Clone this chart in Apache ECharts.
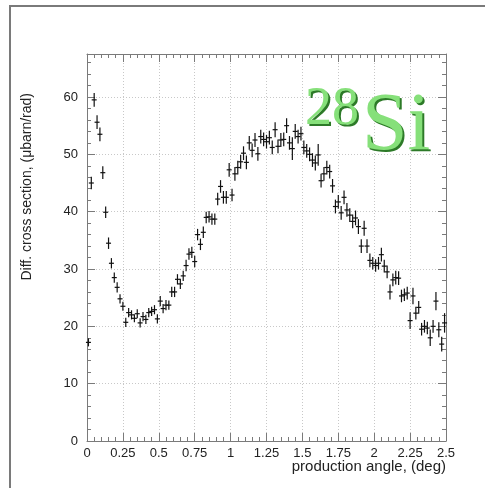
<!DOCTYPE html>
<html>
<head>
<meta charset="utf-8">
<script src="https://cdn.jsdelivr.net/npm/echarts@6/dist/echarts.min.js"></script>
<style>
html,body{margin:0;padding:0;background:#fff;}
#chart{width:485px;height:488px;}
</style>
</head>
<body>
<div id="chart"></div>
<script>
// Bin centres (deg)
var angles = [
0.01,0.03,0.05,0.07,0.09,0.11,0.13,0.15,0.17,0.19,
0.21,0.23,0.25,0.27,0.29,0.31,0.33,0.35,0.37,0.39,
0.41,0.43,0.45,0.47,0.49,0.51,0.53,0.55,0.57,0.59,
0.61,0.63,0.65,0.67,0.69,0.71,0.73,0.75,0.77,0.79,
0.81,0.83,0.85,0.87,0.89,0.91,0.93,0.95,0.97,0.99,
1.01,1.03,1.05,1.07,1.09,1.11,1.13,1.15,1.17,1.19,
1.21,1.23,1.25,1.27,1.29,1.31,1.33,1.35,1.37,1.39,
1.41,1.43,1.45,1.47,1.49,1.51,1.53,1.55,1.57,1.59,
1.61,1.63,1.65,1.67,1.69,1.71,1.73,1.75,1.77,1.79,
1.81,1.83,1.85,1.87,1.89,1.91,1.93,1.95,1.97,1.99,
2.01,2.03,2.05,2.07,2.09,2.11,2.13,2.15,2.17,2.19,
2.21,2.23,2.25,2.27,2.29,2.31,2.33,2.35,2.37,2.39,
2.41,2.43,2.45,2.47,2.49
];
// Differential cross section (µbarn/rad)
var xsec = [
17.2,45.0,59.5,55.6,53.5,46.8,39.9,34.5,31.0,28.5,
26.8,24.8,23.5,20.7,22.4,22.0,21.4,22.2,20.6,21.7,
21.2,22.4,22.6,22.9,21.3,24.4,23.1,23.7,23.7,26.0,
26.0,28.2,27.4,28.8,30.6,32.6,32.9,31.3,36.0,34.3,
36.4,39.0,39.1,38.7,38.7,42.2,44.4,42.5,42.5,47.3,
42.9,46.6,47.7,48.7,50.2,48.6,52.0,50.7,52.5,50.1,
53.1,52.6,52.2,52.9,51.2,54.3,51.4,52.5,52.6,55.0,
52.0,51.0,54.0,53.1,53.6,51.2,50.6,50.0,49.0,48.5,
49.9,45.4,46.6,47.7,47.0,44.5,40.9,41.7,39.8,42.5,
40.3,39.4,38.3,38.9,37.4,34.0,37.1,34.0,31.5,31.0,
30.6,31.0,32.5,30.5,29.5,26.0,28.1,28.5,28.4,25.3,
25.5,25.8,21.0,25.3,22.3,23.3,19.5,20.0,19.7,18.0,
20.0,24.4,19.4,16.9,20.6
];
// Statistical errors (µbarn/rad)
var xsecErr = [
0.7,1.1,1.2,1.2,1.2,1.1,1.0,1.0,0.9,0.9,
0.9,0.8,0.8,0.8,0.8,0.8,0.7,0.8,0.8,0.8,
0.8,0.8,0.8,0.8,0.8,0.9,0.8,0.9,0.8,0.9,
0.9,0.9,0.9,0.9,1.0,1.0,1.0,1.0,1.0,1.0,
1.0,1.0,1.0,1.0,1.0,1.1,1.1,1.1,1.1,1.2,
1.1,1.2,1.2,1.2,1.2,1.2,1.2,1.2,1.2,1.2,
1.2,1.2,1.2,1.2,1.2,1.3,1.2,1.2,1.2,1.3,
1.2,2.0,1.3,1.2,1.2,1.2,1.2,1.2,1.2,1.3,
1.9,1.2,1.2,1.2,1.2,1.2,1.2,1.2,1.2,1.2,
1.2,1.2,1.2,1.3,1.3,1.2,1.3,1.2,1.2,1.1,
1.1,1.1,1.2,1.1,1.1,1.3,1.1,1.2,1.2,1.1,
1.1,1.1,1.45,1.45,1.1,1.1,1.1,1.1,1.1,1.45,
1.1,1.6,1.3,1.3,1.7
];
var xTicks = ['0','0.25','0.5','0.75','1','1.25','1.5','1.75','2','2.25','2.5'];
var yTicks = ['0','10','20','30','40','50','60'];

var chart = echarts.init(document.getElementById('chart'), null, {renderer:'canvas'});

var pts = angles.map(function(a,i){ return [a, xsec[i], xsecErr[i]]; });

var axisCol = '#7a7a7a';
var gridStyle = {show:true, lineStyle:{color:'#c8c8c8', type:[1,2], width:1}};
function xAx(pos, labels){
  return {
    type:'value', position:pos, min:0, max:2.5, interval:0.25,
    axisLine:{show:true, onZero:false, lineStyle:{color:axisCol, width:1}},
    axisTick:{show:true, inside:true, length:8, lineStyle:{color:axisCol}},
    minorTick:{show:true, splitNumber:5, length:4, lineStyle:{color:axisCol}},
    splitLine: pos==='bottom' ? gridStyle : {show:false},
    axisLabel:{show:labels, color:'#222', fontSize:13, fontFamily:'Liberation Sans, Arial, sans-serif', margin:6,
      formatter:function(v){ var i=Math.round(v/0.25); return xTicks[i]!==undefined?xTicks[i]:''; }}
  };
}
function yAx(pos, labels){
  return {
    type:'value', position:pos, min:0, max:67.5, interval:10,
    axisLine:{show:true, onZero:false, lineStyle:{color:axisCol, width:1}},
    axisTick:{show:true, inside:true, length:8, lineStyle:{color:axisCol}},
    minorTick:{show:true, splitNumber:5, length:4, lineStyle:{color:axisCol}},
    splitLine: pos==='left' ? gridStyle : {show:false},
    axisLabel:{show:labels, showMaxLabel:false, color:'#222', fontSize:13, fontFamily:'Liberation Sans, Arial, sans-serif', margin:9,
      formatter:function(v){ var i=Math.round(v/10); return (Math.abs(v-i*10)<1e-6 && yTicks[i]!==undefined)?yTicks[i]:''; }}
  };
}

var serif = '"Liberation Serif", "DejaVu Serif", serif';
var option = {
  backgroundColor:'#fff',
  animation:false,
  grid:{left:87, top:54, width:359, height:387},
  xAxis:[xAx('bottom',true), xAx('top',false)],
  yAxis:[yAx('left',true), yAx('right',false)],
  series:[{
    type:'custom',
    xAxisIndex:0, yAxisIndex:0,
    data:pts,
    encode:{x:0, y:1},
    renderItem:function(params, api){
      var x = api.value(0), y = api.value(1), e = api.value(2);
      var p = api.coord([x,y]);
      var lo = api.coord([x,y-e]);
      var hi = api.coord([x,y+e]);
      var st = {stroke:'#111', lineWidth:1.2};
      return {type:'group', children:[
        {type:'line', shape:{x1:p[0], y1:lo[1], x2:p[0], y2:hi[1]}, style:st},
        {type:'line', shape:{x1:p[0]-2.5, y1:p[1], x2:p[0]+2.5, y2:p[1]}, style:st}
      ]};
    }
  }],
  graphic:[
    {type:'line', shape:{x1:10, y1:488, x2:10, y2:5}, style:{stroke:'#7a7a7a', lineWidth:2}},
    {type:'line', shape:{x1:9, y1:6, x2:485, y2:6}, style:{stroke:'#7a7a7a', lineWidth:2}},
    {type:'text', x:27, y:93, rotation:Math.PI/2,
      style:{text:'Diff. cross section, (\u03bcbarn/rad)', fill:'#222', font:'14px "Liberation Sans", Arial, sans-serif', textAlign:'right', textVerticalAlign:'middle'}},
    {type:'text', x:446, y:467,
      style:{text:'production angle, (deg)', fill:'#222', font:'15px "Liberation Sans", Arial, sans-serif', textAlign:'right', textVerticalAlign:'middle'}},
    // 28Si label: dark edge then light face
    {type:'text', x:307, y:139, z:10,
      style:{text:'28', fill:'#2d7a28', font:'54px ' + serif, textAlign:'left', textVerticalAlign:'bottom'}},
    {type:'text', x:305, y:137, z:11,
      style:{text:'28', fill:'#86e07a', font:'54px ' + serif, textAlign:'left', textVerticalAlign:'bottom'}},
    {type:'text', x:364, y:170, z:10,
      style:{text:'Si', fill:'#2d7a28', font:'82px ' + serif, textAlign:'left', textVerticalAlign:'bottom'}},
    {type:'text', x:362, y:168, z:11,
      style:{text:'Si', fill:'#86e07a', font:'82px ' + serif, textAlign:'left', textVerticalAlign:'bottom'}}
  ]
};
chart.setOption(option);
</script>
</body>
</html>
